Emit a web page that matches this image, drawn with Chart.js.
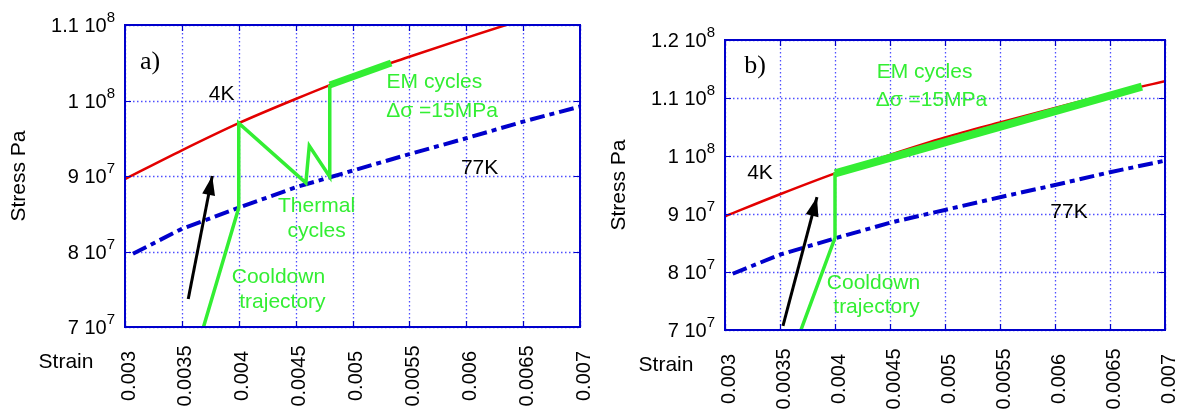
<!DOCTYPE html>
<html>
<head>
<meta charset="utf-8">
<script src="https://cdn.jsdelivr.net/npm/chart.js@4.4.0/dist/chart.umd.min.js"></script>
<style>
  html, body { margin: 0; padding: 0; background: #fff; }
  #wrap { position: relative; width: 1185px; height: 410px; overflow: hidden; }
  #panelA { position: absolute; left: 0; top: 0; }
  #panelB { position: absolute; left: 600px; top: 0; }
</style>
</head>
<body>
<div id="wrap">
  <canvas id="panelA" width="600" height="410"></canvas>
  <canvas id="panelB" width="585" height="410"></canvas>
</div>
<script>
// stress-strain curves (strain, stress in Pa)
const strain4K = [0.003, 0.0035, 0.004, 0.0045, 0.005, 0.0055, 0.006, 0.0065, 0.007];
const stress4K = [8.96e7, 9.34e7, 9.70e7, 1.002e8, 1.032e8, 1.058e8, 1.083e8, 1.107e8, 1.129e8];
const strain77K = [0.00307, 0.0035, 0.004, 0.0045, 0.005, 0.0055, 0.006, 0.0065, 0.007];
const stress77K = [7.97e7, 8.30e7, 8.58e7, 8.85e7, 9.07e7, 9.29e7, 9.50e7, 9.72e7, 9.92e7];

// panel a: cooldown, thermal cycles, then EM cycles
const pathStrainA = [0.00369, 0.004, 0.004, 0.00459, 0.00462, 0.0048, 0.0048];
const pathStressA = [7.0e7, 8.58e7, 9.70e7, 8.91e7, 9.40e7, 8.99e7, 1.0205e8];
const emStrainA = [0.0048, 0.00534];
const emStressA = [1.0205e8, 1.0497e8];
const arrowStrainA = [0.003556, 0.003767];
const arrowStressA = [7.37e7, 9.0e7];

// panel b: cooldown straight to 4K, then EM cycles
const pathStrainB = [0.00369, 0.004, 0.004];
const pathStressB = [7.0e7, 8.59e7, 9.72e7];
const emStrainB = [0.004, 0.00679];
const emStressB = [9.70e7, 1.1195e8];
const arrowStrainB = [0.003527, 0.003836];
const arrowStressB = [7.07e7, 9.29e7];

// ticks
const xTicks = [0.003, 0.0035, 0.004, 0.0045, 0.005, 0.0055, 0.006, 0.0065, 0.007];
const xTickLabels = ['0.003', '0.0035', '0.004', '0.0045', '0.005', '0.0055', '0.006', '0.0065', '0.007'];
const yTicksA = [7e7, 8e7, 9e7, 1e8, 1.1e8];
const yTickLabelsA = ['7 10^7', '8 10^7', '9 10^7', '1 10^8', '1.1 10^8'];
const yTicksB = [7e7, 8e7, 9e7, 1e8, 1.1e8, 1.2e8];
const yTickLabelsB = ['7 10^7', '8 10^7', '9 10^7', '1 10^8', '1.1 10^8', '1.2 10^8'];

const RED = '#e30000';
const BLUE = '#0000cc';
const GREEN = '#33ee33';
const SANS = '"Liberation Sans", Arial, sans-serif';
const SERIF = '"Liberation Serif", "Times New Roman", serif';

const notesA = [
  { text: 'a)', x: 0.00322, y: 1.051e8, color: '#000', font: '26px ' + SERIF },
  { text: '4K', x: 0.00385, y: 1.0086e8, color: '#000' },
  { text: 'EM cycles', x: 0.00572, y: 1.0245e8, color: GREEN },
  { text: 'Δσ =15MPa', x: 0.005787, y: 9.861e7, color: GREEN },
  { text: '77K', x: 0.006117, y: 9.106e7, color: '#000' },
  { text: 'Thermal', x: 0.004684, y: 8.603e7, color: GREEN },
  { text: 'cycles', x: 0.004684, y: 8.27e7, color: GREEN },
  { text: 'Cooldown', x: 0.004349, y: 7.662e7, color: GREEN },
  { text: 'trajectory', x: 0.004384, y: 7.331e7, color: GREEN }
];
const notesB = [
  { text: 'b)', x: 0.003273, y: 1.155e8, color: '#000', font: '26px ' + SERIF },
  { text: '4K', x: 0.003318, y: 9.707e7, color: '#000' },
  { text: 'EM cycles', x: 0.004814, y: 1.144e8, color: GREEN },
  { text: 'Δσ =15MPa', x: 0.004877, y: 1.0966e8, color: GREEN },
  { text: '77K', x: 0.006127, y: 9.034e7, color: '#000' },
  { text: 'Cooldown', x: 0.00435, y: 7.81e7, color: GREEN },
  { text: 'trajectory', x: 0.004377, y: 7.397e7, color: GREEN }
];

function pts(xs, ys) {
  return xs.map((x, i) => ({ x: x, y: ys[i] }));
}

// order: lower number is drawn on top
function lineSet(data, color, width, order, extra) {
  return Object.assign({
    data: data,
    showLine: true,
    borderColor: color,
    backgroundColor: color,
    borderWidth: width,
    pointRadius: 0,
    pointHoverRadius: 0,
    fill: false,
    tension: 0,
    order: order
  }, extra || {});
}

// grid, frame, tick labels, titles, arrow head and text notes
function makeDecor(cfg) {
  return {
    id: 'decor',
    beforeDatasetsDraw(chart) {
      const ctx = chart.ctx, a = chart.chartArea;
      const xs = chart.scales.x, ys = chart.scales.y;
      ctx.save();
      ctx.strokeStyle = 'rgba(60,60,255,0.9)';
      ctx.lineWidth = 1.3;
      ctx.setLineDash([1.5, 2.5]);
      cfg.xTicks.forEach(v => {
        const px = Math.round(xs.getPixelForValue(v)) + 0.5;
        ctx.beginPath(); ctx.moveTo(px, a.top); ctx.lineTo(px, a.bottom); ctx.stroke();
      });
      cfg.yTicks.forEach(v => {
        const py = Math.round(ys.getPixelForValue(v)) + 0.5;
        ctx.beginPath(); ctx.moveTo(a.left, py); ctx.lineTo(a.right, py); ctx.stroke();
      });
      ctx.restore();
    },
    afterDatasetsDraw(chart) {
      const ctx = chart.ctx, a = chart.chartArea;
      const xs = chart.scales.x, ys = chart.scales.y;
      ctx.save();

      // arrow head at the end of the black trajectory
      const n = cfg.arrowX.length;
      const x0 = xs.getPixelForValue(cfg.arrowX[n - 2]), y0 = ys.getPixelForValue(cfg.arrowY[n - 2]);
      const x1 = xs.getPixelForValue(cfg.arrowX[n - 1]), y1 = ys.getPixelForValue(cfg.arrowY[n - 1]);
      const ang = Math.atan2(y1 - y0, x1 - x0);
      const L = 19, W = 6.5, c = Math.cos(ang), s = Math.sin(ang);
      ctx.fillStyle = '#000';
      ctx.beginPath();
      ctx.moveTo(x1, y1);
      ctx.lineTo(x1 - L * c + W * s, y1 - L * s - W * c);
      ctx.lineTo(x1 - L * c - W * s, y1 - L * s + W * c);
      ctx.closePath();
      ctx.fill();

      // frame and inner tick marks
      ctx.strokeStyle = BLUE;
      ctx.lineWidth = 2;
      ctx.strokeRect(a.left, a.top, a.right - a.left, a.bottom - a.top);
      ctx.lineWidth = 1.2;
      cfg.xTicks.forEach(v => {
        const px = Math.round(xs.getPixelForValue(v)) + 0.5;
        ctx.beginPath();
        ctx.moveTo(px, a.bottom); ctx.lineTo(px, a.bottom - 6);
        ctx.moveTo(px, a.top); ctx.lineTo(px, a.top + 6);
        ctx.stroke();
      });
      cfg.yTicks.forEach(v => {
        const py = Math.round(ys.getPixelForValue(v)) + 0.5;
        ctx.beginPath();
        ctx.moveTo(a.left, py); ctx.lineTo(a.left + 6, py);
        ctx.moveTo(a.right, py); ctx.lineTo(a.right - 6, py);
        ctx.stroke();
      });

      // y tick labels "m 10^e"
      ctx.fillStyle = '#000';
      cfg.yTicks.forEach((v, i) => {
        const parts = cfg.yLabels[i].split('^');
        const py = ys.getPixelForValue(v);
        const xr = a.left - 10;
        ctx.textAlign = 'right';
        ctx.textBaseline = 'alphabetic';
        ctx.font = '15px ' + SANS;
        const supW = ctx.measureText(parts[1]).width;
        ctx.fillText(parts[1], xr, py - 3);
        ctx.font = '20px ' + SANS;
        ctx.fillText(parts[0], xr - supW, py + 7);
      });

      // x tick labels, rotated and centred below the axis
      ctx.font = '20px ' + SANS;
      ctx.textAlign = 'center';
      ctx.textBaseline = 'middle';
      cfg.xTicks.forEach((v, i) => {
        ctx.save();
        ctx.translate(xs.getPixelForValue(v) + 4, a.bottom + 49);
        ctx.rotate(-Math.PI / 2);
        ctx.fillText(cfg.xLabels[i], 0, 0);
        ctx.restore();
      });

      // axis titles
      ctx.font = '21px ' + SANS;
      ctx.fillText('Strain', a.left - 59, a.bottom + 35);
      ctx.save();
      ctx.translate(a.left - 106, (a.top + a.bottom) / 2);
      ctx.rotate(-Math.PI / 2);
      ctx.fillText('Stress Pa', 0, 0);
      ctx.restore();

      // text notes
      cfg.notes.forEach(t => {
        ctx.font = t.font || ('21px ' + SANS);
        ctx.fillStyle = t.color;
        ctx.fillText(t.text, xs.getPixelForValue(t.x), ys.getPixelForValue(t.y));
      });
      ctx.restore();
    }
  };
}

function makePanel(id, cfg) {
  const datasets = [
    lineSet(pts(strain77K, stress77K), BLUE, 4, 5, { borderDash: [15, 5, 5, 5] }),
    lineSet(pts(strain4K, stress4K), RED, 2.5, 4, { cubicInterpolationMode: 'monotone' }),
    lineSet(pts(cfg.pathX, cfg.pathY), GREEN, 3.5, 3),
    lineSet(pts(cfg.emX, cfg.emY), GREEN, cfg.emWidth, 2),
    lineSet(pts(cfg.arrowX, cfg.arrowY), '#000', 3, 1)
  ];
  return new Chart(document.getElementById(id), {
    type: 'scatter',
    data: { datasets: datasets },
    options: {
      responsive: false,
      animation: false,
      devicePixelRatio: 1,
      layout: { padding: { left: 0, top: cfg.top, right: 20, bottom: 0 } },
      plugins: { legend: { display: false }, tooltip: { enabled: false } },
      scales: {
        x: {
          type: 'linear', min: 0.003, max: 0.007,
          grid: { display: false }, border: { display: false }, ticks: { display: false },
          afterFit: s => { s.height = cfg.xHeight; }
        },
        y: {
          type: 'linear', min: 7e7, max: cfg.yMax,
          grid: { display: false }, border: { display: false }, ticks: { display: false },
          afterFit: s => { s.width = 125; }
        }
      }
    },
    plugins: [makeDecor(cfg)]
  });
}

makePanel('panelA', {
  top: 25, xHeight: 83, yMax: 1.1e8,
  pathX: pathStrainA, pathY: pathStressA,
  emX: emStrainA, emY: emStressA, emWidth: 7,
  arrowX: arrowStrainA, arrowY: arrowStressA,
  xTicks: xTicks, xLabels: xTickLabels,
  yTicks: yTicksA, yLabels: yTickLabelsA,
  notes: notesA
});

makePanel('panelB', {
  top: 40, xHeight: 80, yMax: 1.2e8,
  pathX: pathStrainB, pathY: pathStressB,
  emX: emStrainB, emY: emStressB, emWidth: 8,
  arrowX: arrowStrainB, arrowY: arrowStressB,
  xTicks: xTicks, xLabels: xTickLabels,
  yTicks: yTicksB, yLabels: yTickLabelsB,
  notes: notesB
});
</script>
</body>
</html>
